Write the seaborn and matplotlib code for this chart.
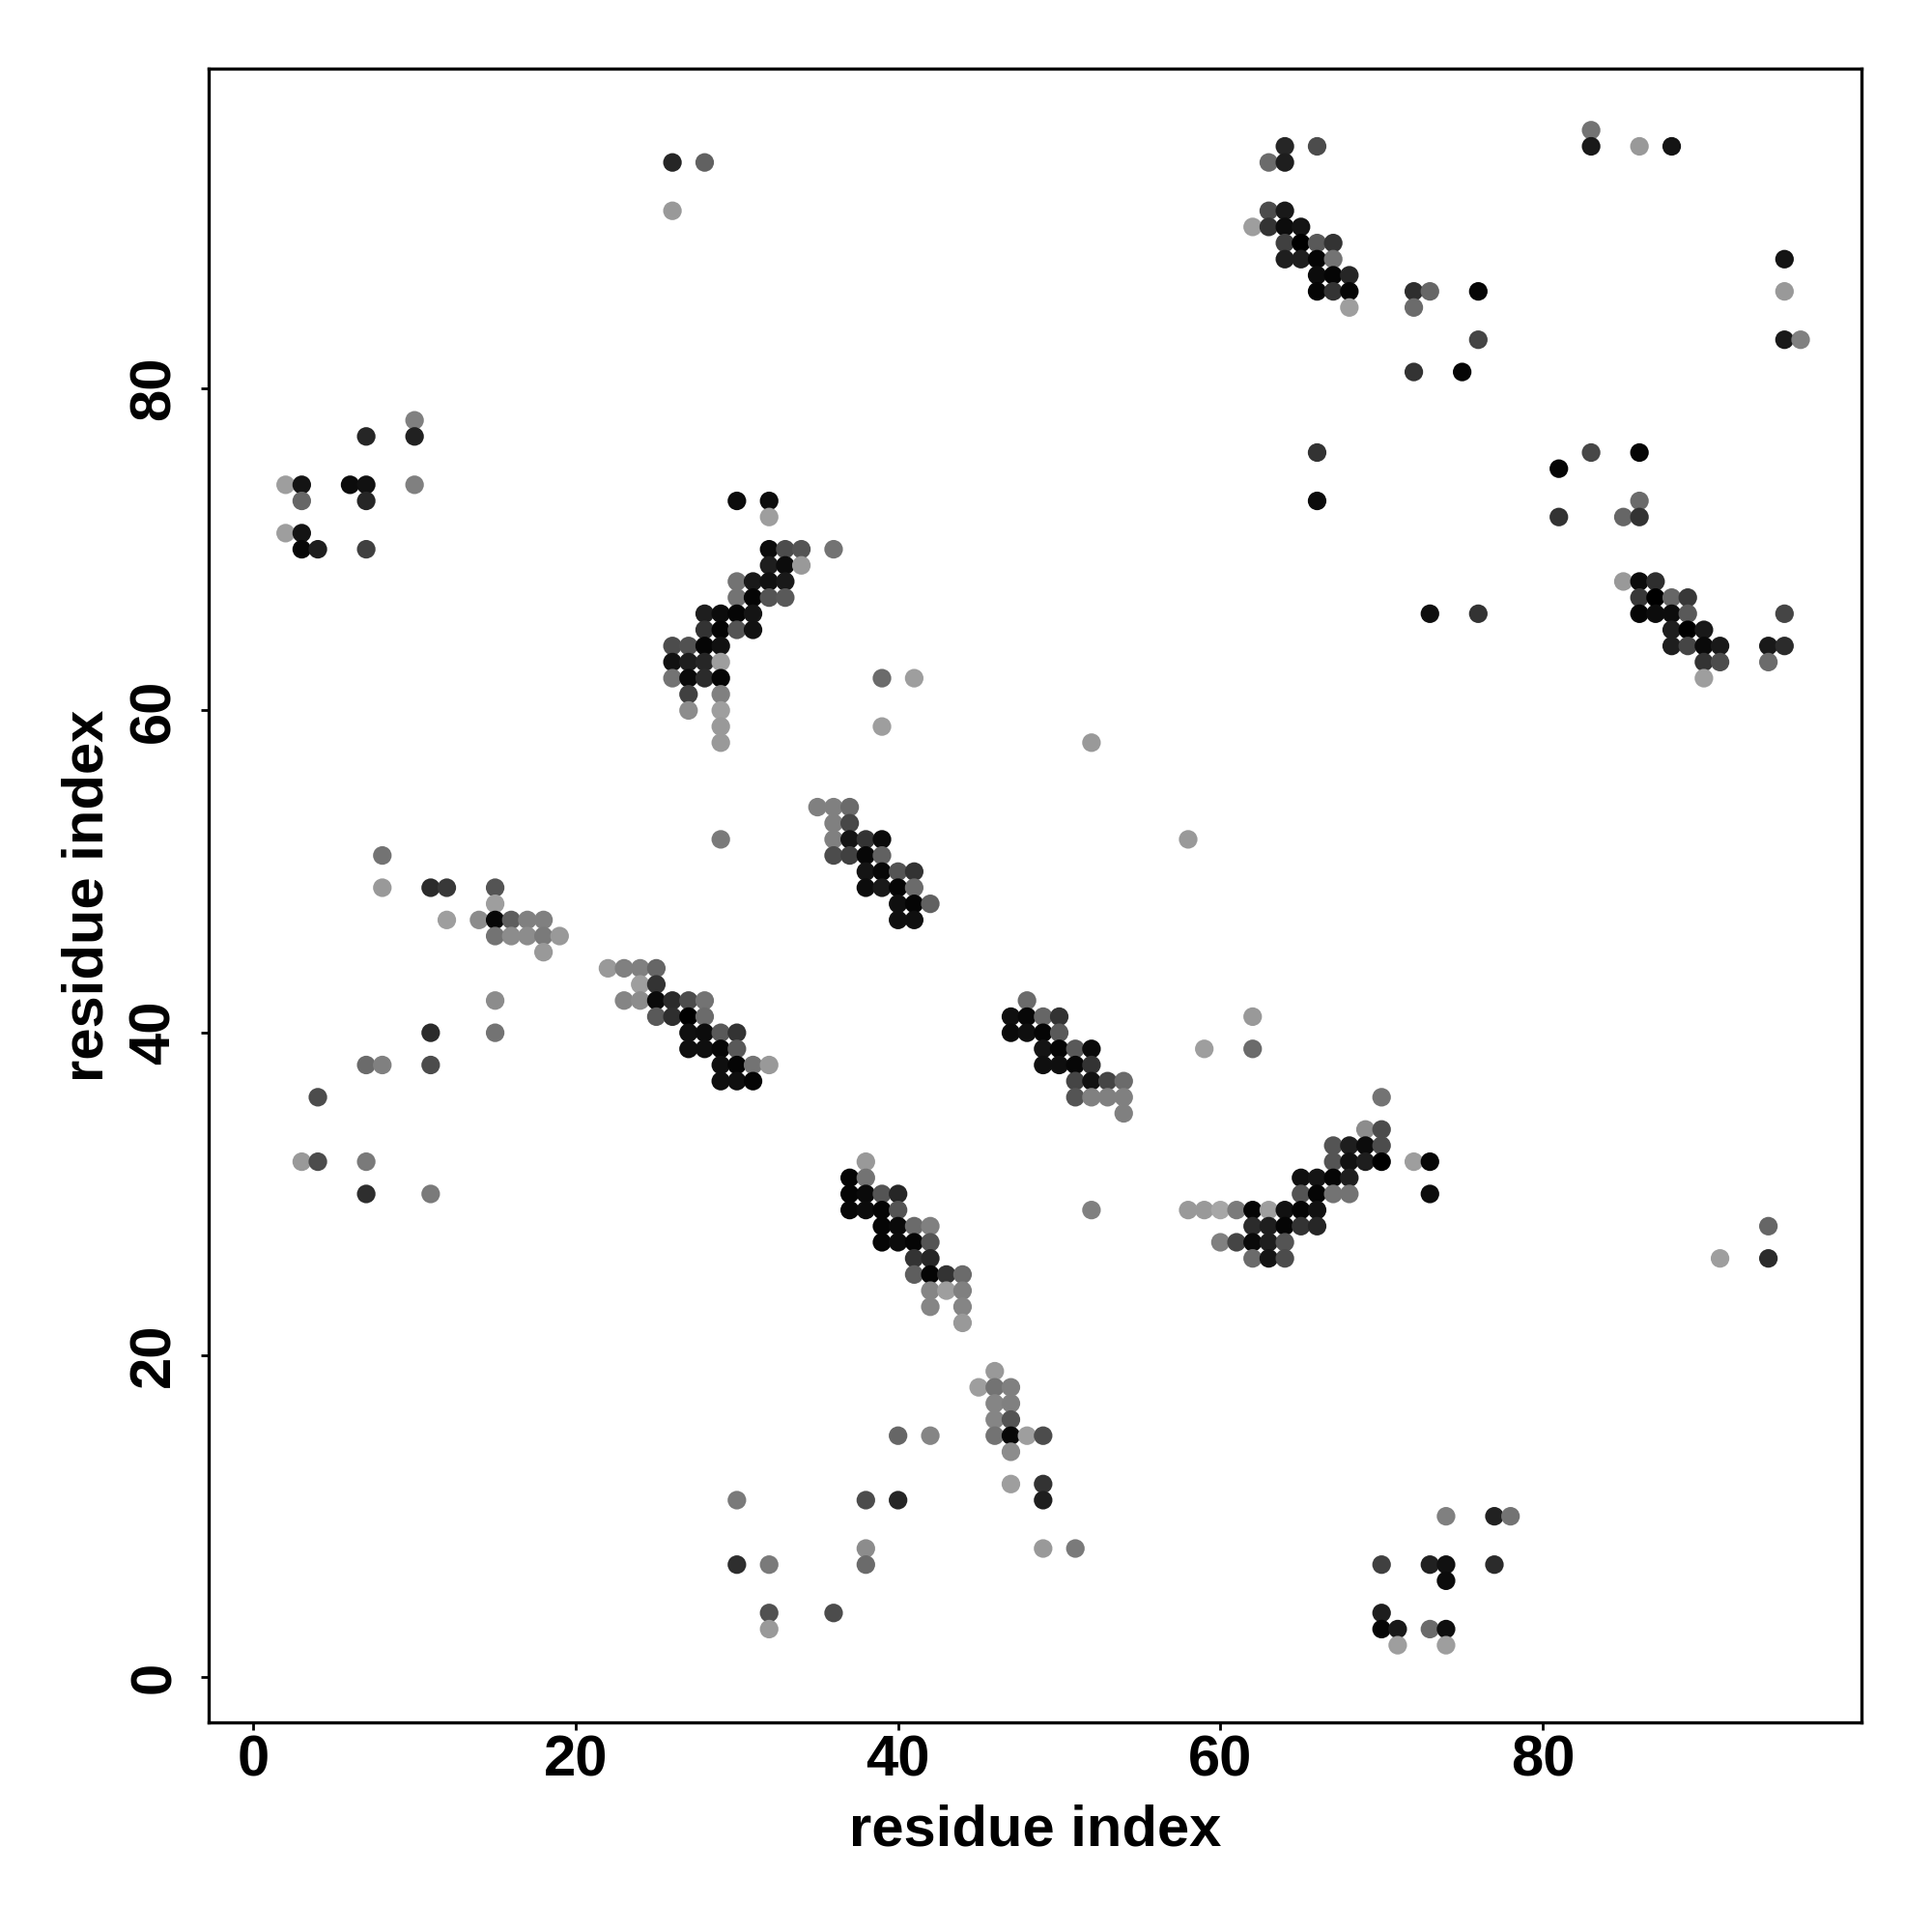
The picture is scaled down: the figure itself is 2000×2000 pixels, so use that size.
import pandas as pd
import matplotlib
matplotlib.use("Agg")
import matplotlib.pyplot as plt
import seaborn as sns

# contact map points: (residue i, residue j, grey level 0=black .. 1=white)
top_left = [(10, 78, 0.5), (10, 77, 0.13), (7, 77, 0.15), (2, 74, 0.62), (3, 74, 0.08),
            (3, 73, 0.4), (6, 74, 0.05), (7, 74, 0.07), (7, 73, 0.15), (10, 74, 0.5),
            (2, 71, 0.62), (3, 71, 0.08), (3, 70, 0.03), (4, 70, 0.12), (7, 70, 0.25)]

top_mid = [(26, 94, 0.15), (28, 94, 0.38), (26, 91, 0.6)]

helix_a = [(30, 73, 0.05), (32, 73, 0.05), (32, 72, 0.62), (32, 70, 0.05), (33, 70, 0.3),
           (34, 70, 0.33), (36, 70, 0.45), (32, 69, 0.12), (33, 69, 0.05), (34, 69, 0.6),
           (30, 68, 0.45), (31, 68, 0.1), (32, 68, 0.07), (33, 68, 0.1),
           (30, 67, 0.45), (31, 67, 0.02), (32, 67, 0.33), (33, 67, 0.35),
           (28, 66, 0.12), (29, 66, 0.05), (30, 66, 0.02), (31, 66, 0.08),
           (28, 65, 0.2), (29, 65, 0.02), (30, 65, 0.33), (31, 65, 0.07),
           (26, 64, 0.3), (27, 64, 0.32), (28, 64, 0.02), (29, 64, 0.07),
           (26, 63, 0.07), (27, 63, 0.12), (28, 63, 0.15), (29, 63, 0.62),
           (26, 62, 0.45), (27, 62, 0.04), (28, 62, 0.17), (29, 62, 0.02),
           (27, 61, 0.25), (29, 61, 0.5), (27, 60, 0.55), (29, 60, 0.62),
           (29, 59, 0.6), (29, 58, 0.6), (39, 62, 0.42), (41, 62, 0.62), (39, 59, 0.62)]

top_right = [(64, 95, 0.15), (66, 95, 0.3), (63, 94, 0.42), (64, 94, 0.12),
             (63, 91, 0.3), (64, 91, 0.1), (62, 90, 0.62), (63, 90, 0.2), (64, 90, 0.05),
             (65, 90, 0.08), (64, 89, 0.25), (65, 89, 0.0), (66, 89, 0.35), (67, 89, 0.2),
             (64, 88, 0.12), (65, 88, 0.12), (66, 88, 0.02), (67, 88, 0.45),
             (66, 87, 0.05), (67, 87, 0.02), (68, 87, 0.15),
             (66, 86, 0.02), (67, 86, 0.2), (68, 86, 0.02), (68, 85, 0.62),
             (72, 86, 0.18), (73, 86, 0.4), (76, 86, 0.02), (72, 85, 0.42),
             (76, 83, 0.27), (72, 81, 0.2), (75, 81, 0.02),
             (66, 76, 0.2), (66, 73, 0.05), (81, 75, 0.02), (81, 72, 0.2),
             (73, 66, 0.06), (76, 66, 0.2)]

far_right = [(83, 96, 0.45), (83, 95, 0.1), (86, 95, 0.6), (88, 95, 0.08),
             (95, 88, 0.08), (95, 86, 0.6), (95, 83, 0.1), (96, 83, 0.5),
             (83, 76, 0.28), (86, 76, 0.02), (86, 73, 0.42), (85, 72, 0.4), (86, 72, 0.2),
             (85, 68, 0.6), (86, 68, 0.05), (87, 68, 0.18),
             (86, 67, 0.22), (87, 67, 0.0), (88, 67, 0.4), (89, 67, 0.22),
             (86, 66, 0.02), (87, 66, 0.05), (88, 66, 0.05), (89, 66, 0.35),
             (88, 65, 0.12), (89, 65, 0.0), (90, 65, 0.1),
             (88, 64, 0.12), (89, 64, 0.27), (90, 64, 0.04), (91, 64, 0.1),
             (90, 63, 0.2), (91, 63, 0.3), (90, 62, 0.62),
             (95, 66, 0.27), (94, 64, 0.1), (95, 64, 0.17), (94, 63, 0.42)]

left_mid = [(8, 51, 0.45), (8, 49, 0.6), (11, 49, 0.17), (12, 49, 0.22), (15, 49, 0.33),
            (15, 48, 0.62), (12, 47, 0.62), (14, 47, 0.55), (15, 47, 0.03), (16, 47, 0.37),
            (17, 47, 0.5), (18, 47, 0.5), (15, 46, 0.45), (16, 46, 0.55), (17, 46, 0.55),
            (18, 46, 0.48), (19, 46, 0.6), (18, 45, 0.6), (15, 42, 0.55), (15, 40, 0.45),
            (11, 40, 0.17), (7, 38, 0.42), (8, 38, 0.5), (11, 38, 0.3), (4, 36, 0.3),
            (3, 32, 0.6), (4, 32, 0.3), (7, 32, 0.48), (7, 30, 0.18), (11, 30, 0.48)]

helix_b = [(35, 54, 0.5), (36, 54, 0.5), (37, 54, 0.42), (36, 53, 0.5), (37, 53, 0.28),
           (29, 52, 0.48), (36, 52, 0.5), (37, 52, 0.08), (38, 52, 0.2), (39, 52, 0.04),
           (36, 51, 0.3), (37, 51, 0.25), (38, 51, 0.03), (39, 51, 0.38),
           (38, 50, 0.08), (39, 50, 0.03), (40, 50, 0.33), (41, 50, 0.2),
           (38, 49, 0.05), (39, 49, 0.1), (40, 49, 0.02), (41, 49, 0.42),
           (40, 48, 0.06), (41, 48, 0.02), (42, 48, 0.38), (40, 47, 0.06), (41, 47, 0.06)]

helix_c = [(22, 44, 0.6), (23, 44, 0.5), (24, 44, 0.5), (25, 44, 0.4), (24, 43, 0.62),
           (25, 43, 0.2), (23, 42, 0.52), (24, 42, 0.55), (25, 42, 0.04), (26, 42, 0.17),
           (27, 42, 0.3), (28, 42, 0.45), (25, 41, 0.35), (26, 41, 0.18), (27, 41, 0.0),
           (28, 41, 0.42), (27, 40, 0.06), (28, 40, 0.05), (29, 40, 0.35), (30, 40, 0.2),
           (27, 39, 0.06), (28, 39, 0.06), (29, 39, 0.03), (30, 39, 0.35),
           (29, 38, 0.06), (30, 38, 0.02), (31, 38, 0.45), (32, 38, 0.6),
           (29, 37, 0.06), (30, 37, 0.06), (31, 37, 0.02)]

helix_d = [(52, 58, 0.6), (58, 52, 0.6), (48, 42, 0.42), (47, 41, 0.06), (48, 41, 0.03),
           (49, 41, 0.4), (50, 41, 0.2), (47, 40, 0.04), (48, 40, 0.06), (49, 40, 0.02),
           (50, 40, 0.35), (49, 39, 0.08), (50, 39, 0.02), (51, 39, 0.35), (52, 39, 0.04),
           (49, 38, 0.06), (50, 38, 0.06), (51, 38, 0.03), (52, 38, 0.2),
           (51, 37, 0.27), (52, 37, 0.07), (53, 37, 0.27), (54, 37, 0.42),
           (51, 36, 0.33), (52, 36, 0.5), (53, 36, 0.5), (54, 36, 0.5), (54, 35, 0.5),
           (62, 41, 0.6), (59, 39, 0.62), (62, 39, 0.42)]

helix_e = [(38, 32, 0.6), (37, 31, 0.02), (38, 31, 0.45), (37, 30, 0.02), (38, 30, 0.04),
           (39, 30, 0.33), (40, 30, 0.15), (37, 29, 0.03), (38, 29, 0.05), (39, 29, 0.02),
           (40, 29, 0.33), (39, 28, 0.02), (40, 28, 0.04), (41, 28, 0.42), (42, 28, 0.5),
           (39, 27, 0.02), (40, 27, 0.05), (41, 27, 0.02), (42, 27, 0.33),
           (41, 26, 0.2), (42, 26, 0.15), (41, 25, 0.37), (42, 25, 0.02), (43, 25, 0.2),
           (44, 25, 0.42), (42, 24, 0.52), (43, 24, 0.62), (44, 24, 0.5),
           (42, 23, 0.52), (44, 23, 0.52), (44, 22, 0.6), (52, 29, 0.5)]

bottom_mid = [(46, 19, 0.6), (45, 18, 0.62), (46, 18, 0.45), (47, 18, 0.5), (46, 17, 0.52),
              (47, 17, 0.5), (46, 16, 0.52), (47, 16, 0.33), (46, 15, 0.45), (47, 15, 0.03),
              (48, 15, 0.62), (49, 15, 0.3), (47, 14, 0.55), (47, 12, 0.62), (49, 12, 0.2),
              (49, 11, 0.12), (40, 15, 0.4), (42, 15, 0.52), (30, 11, 0.48), (38, 11, 0.3),
              (40, 11, 0.15), (38, 8, 0.55), (38, 7, 0.42), (49, 8, 0.6), (51, 8, 0.48),
              (30, 7, 0.18), (32, 7, 0.48), (32, 4, 0.32), (36, 4, 0.3), (32, 3, 0.6)]

helix_f = [(70, 36, 0.45), (69, 34, 0.55), (70, 34, 0.3), (67, 33, 0.33), (68, 33, 0.12),
           (69, 33, 0.05), (70, 33, 0.3), (67, 32, 0.33), (68, 32, 0.07), (69, 32, 0.12),
           (70, 32, 0.0), (72, 32, 0.62), (73, 32, 0.03), (73, 30, 0.05),
           (65, 31, 0.06), (66, 31, 0.08), (67, 31, 0.02), (68, 31, 0.12),
           (65, 30, 0.33), (66, 30, 0.02), (67, 30, 0.45), (68, 30, 0.45),
           (58, 29, 0.6), (59, 29, 0.6), (60, 29, 0.65), (61, 29, 0.48), (62, 29, 0.02),
           (63, 29, 0.62), (64, 29, 0.07), (65, 29, 0.02), (66, 29, 0.07),
           (62, 28, 0.17), (63, 28, 0.12), (64, 28, 0.02), (65, 28, 0.2), (66, 28, 0.15),
           (60, 27, 0.5), (61, 27, 0.27), (62, 27, 0.04), (63, 27, 0.12), (64, 27, 0.33),
           (62, 26, 0.42), (63, 26, 0.08), (64, 26, 0.3)]

bottom_right = [(94, 28, 0.4), (91, 26, 0.62), (94, 26, 0.17), (74, 10, 0.5), (77, 10, 0.13),
                (78, 10, 0.45), (70, 7, 0.25), (73, 7, 0.13), (74, 7, 0.07), (77, 7, 0.17),
                (74, 6, 0.05), (70, 4, 0.12), (70, 3, 0.02), (71, 3, 0.1), (73, 3, 0.42),
                (74, 3, 0.06), (71, 2, 0.62), (74, 2, 0.62)]

clusters = [top_left, top_mid, helix_a, top_right, far_right, left_mid, helix_b,
            helix_c, helix_d, helix_e, bottom_mid, helix_f, bottom_right]
df = pd.DataFrame([p for c in clusters for p in c], columns=["i", "j", "grey"])

sns.set_style("white")
plt.rcParams['font.family'] = ['Liberation Sans', 'DejaVu Sans']
plt.rcParams['font.weight'] = 'bold'
plt.rcParams['text.color'] = 'black'
plt.rcParams['axes.labelcolor'] = 'black'

fig, ax = plt.subplots(figsize=(10, 10), dpi=200)
fig.subplots_adjust(left=0.1078, right=0.9637, top=0.9643, bottom=0.1084)

sns.scatterplot(data=df, x="i", y="j", hue="grey", palette="gray", hue_norm=(0, 1),
                s=48, linewidth=0, legend=False, ax=ax)

ax.set_xlim(-2.8, 99.8)
ax.set_ylim(-2.8, 99.8)
ax.set_xticks([0, 20, 40, 60, 80])
ax.set_yticks([0, 20, 40, 60, 80])
for side in ax.spines.values():
    side.set_color('black')
    side.set_linewidth(1.2)
ax.tick_params(axis='both', direction='out', length=3, width=1.0, labelsize=21.5,
               bottom=True, left=True, colors='black')
ax.tick_params(axis='x', pad=1.5)
ax.tick_params(axis='y', pad=7, labelrotation=90)
for lab in ax.get_yticklabels():
    lab.set_verticalalignment('center')
    lab.set_fontweight('bold')
for lab in ax.get_xticklabels():
    lab.set_fontweight('bold')

ax.set_xlabel('residue index', fontsize=21.5, fontweight='bold', labelpad=6, color='black')
ax.set_ylabel('residue index', fontsize=21.5, fontweight='bold', labelpad=5, color='black')

plt.savefig('out.png', dpi=200)
